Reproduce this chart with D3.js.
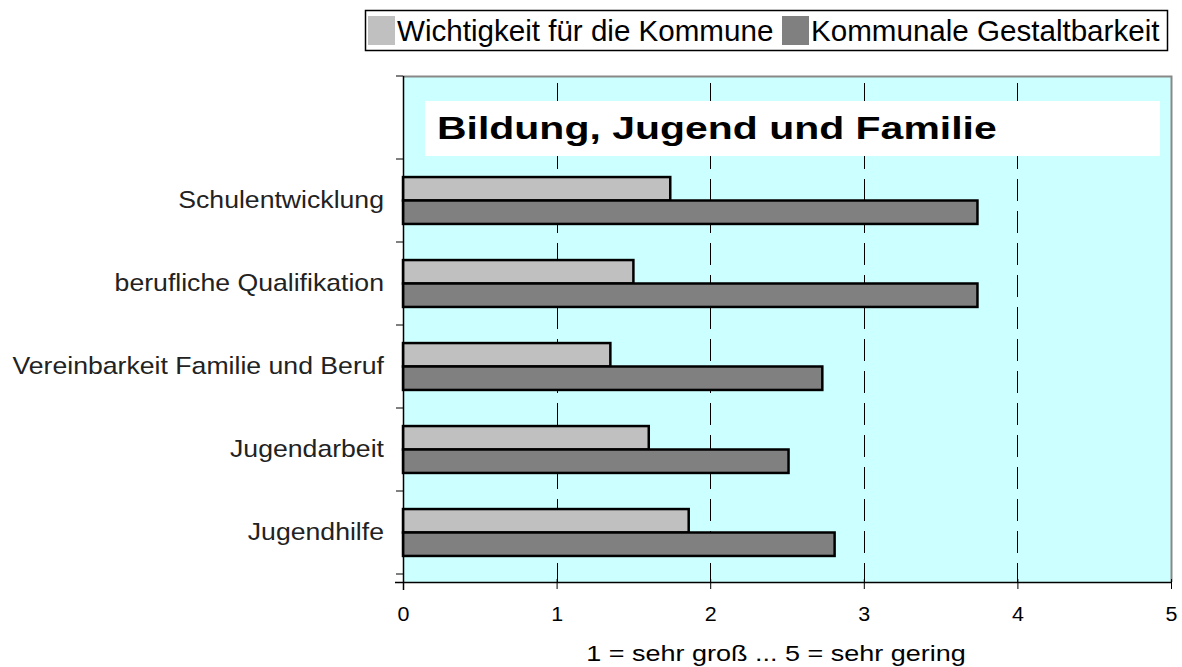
<!DOCTYPE html>
<html>
<head>
<meta charset="utf-8">
<script src="https://cdn.jsdelivr.net/npm/d3@7"></script>
<style>
	body { margin: 0; background: #fff; }
	text { font-family: "Liberation Sans", Arial, sans-serif; }
</style>
</head>
<body>
<svg width="1182" height="667"></svg>
<script>
// data
const categories = ["", "Schulentwicklung", "berufliche Qualifikation", "Vereinbarkeit Familie und Beruf", "Jugendarbeit", "Jugendhilfe"]
const wichtigkeit = [null, 1.74, 1.5, 1.35, 1.6, 1.86]
const gestaltbarkeit = [null, 3.74, 3.74, 2.73, 2.51, 2.81]
const seriesNames = ["Wichtigkeit für die Kommune", "Kommunale Gestaltbarkeit"]
const xTicks = [0, 1, 2, 3, 4, 5]
const chartTitle = "Bildung, Jugend und Familie"
const xTitle = "1 = sehr groß ... 5 = sehr gering"

const colors = { light: "#c0c0c0", dark: "#808080", plot: "#ccffff" }

const svg = d3.select("svg")
const plotLeft = 403, plotRight = 1171, plotTop = 76, bandBottom = 574, plotBottom = 582

const x = d3.scaleLinear().domain([0, 5]).range([plotLeft, plotRight])
const y = d3.scaleBand().domain(categories.map((c, i) => i)).range([plotTop, bandBottom]).paddingInner(0).paddingOuter(0)
const inner = d3.scaleBand().domain([0, 1]).range([0, y.bandwidth()]).paddingOuter(0.77).paddingInner(0)

// the source picture is stretched sideways, so texts get a horizontal scale
function stretchedText(parent, px, py, sx, str) {
	return parent.append("text")
		.attr("transform", `translate(${px},${py}) scale(${sx},1)`)
		.text(str)
}

// plot background
svg.append("rect")
	.attr("x", plotLeft).attr("y", plotTop)
	.attr("width", plotRight - plotLeft).attr("height", plotBottom - plotTop)
	.attr("fill", colors.plot)

// top and right border (grey)
svg.append("path")
	.attr("d", `M${plotLeft},${plotTop + 0.5} H${plotRight + 0.5} V${plotBottom}`)
	.attr("fill", "none")
	.attr("stroke", "#888")
	.attr("stroke-width", 2)

// dashed gridlines
svg.selectAll(".grid")
	.data(xTicks.filter((t) => t > 0 && t < 5))
	.enter()
	.append("line")
	.attr("class", "grid")
	.attr("x1", (d) => Math.round(x(d)) + 0.5)
	.attr("x2", (d) => Math.round(x(d)) + 0.5)
	.attr("y1", plotTop)
	.attr("y2", plotBottom)
	.attr("stroke", "#000")
	.attr("stroke-width", 1)
	.attr("stroke-dasharray", "22,10")
	.attr("stroke-dashoffset", -7)

// title box
svg.append("rect")
	.attr("x", 425).attr("y", 101)
	.attr("width", 735).attr("height", 55)
	.attr("fill", "#fff")
stretchedText(svg, 437, 139, 1.28, chartTitle)
	.attr("font-size", 32)
	.attr("font-weight", "bold")
	.attr("fill", "#000")

// bars
const rows = categories.map((c, i) => ({ i, values: [wichtigkeit[i], gestaltbarkeit[i]] })).filter((r) => r.values[0] != null)
const barG = svg.selectAll(".row")
	.data(rows)
	.enter()
	.append("g")
	.attr("class", "row")
	.attr("transform", (d) => `translate(0,${y(d.i)})`)

barG.selectAll("rect")
	.data((d) => d.values.map((v, k) => ({ v, k })))
	.enter()
	.append("rect")
	.attr("x", x(0))
	.attr("y", (d) => inner(d.k))
	.attr("width", (d) => x(d.v) - x(0))
	.attr("height", inner.bandwidth())
	.attr("fill", (d) => (d.k === 0 ? colors.light : colors.dark))
	.attr("stroke", "#000")
	.attr("stroke-width", 2.5)

// x axis
const xAxis = svg.append("g")
	.attr("transform", `translate(0,${plotBottom})`)
	.call(d3.axisBottom(x).tickValues(xTicks).tickSize(8).tickFormat(d3.format("d")))
xAxis.select(".domain").attr("d", `M${plotLeft - 8},0.5H${plotRight}`).attr("stroke-width", 1.5)
xAxis.selectAll(".tick line").attr("y1", -3).attr("y2", 7)
xAxis.selectAll(".tick text").remove()
xAxis.selectAll(".tick").each(function (d) {
	stretchedText(d3.select(this), 0, 39, 1.1, d)
		.attr("font-size", 19.5)
		.attr("text-anchor", "middle")
		.attr("fill", "#000")
})

// y axis
const yAxis = svg.append("g")
svg.append("line")
	.attr("x1", plotLeft + 0.5).attr("x2", plotLeft + 0.5)
	.attr("y1", plotTop).attr("y2", plotBottom + 8)
	.attr("stroke", "#000").attr("stroke-width", 1.5)
yAxis.selectAll("line")
	.data(d3.range(categories.length + 1))
	.enter()
	.append("line")
	.attr("x1", plotLeft - 7)
	.attr("x2", plotLeft)
	.attr("y1", (d) => plotTop + d * y.step())
	.attr("y2", (d) => plotTop + d * y.step())
	.attr("stroke", "#000")
rows.forEach((d) => {
	stretchedText(yAxis, 384, y(d.i) + y.bandwidth() / 2 + 7, 1.11, categories[d.i])
		.attr("font-size", 24)
		.attr("text-anchor", "end")
		.attr("fill", "#222")
})

// x axis title
stretchedText(svg, 776, 661, 1.2, xTitle)
	.attr("text-anchor", "middle")
	.attr("font-size", 22.5)
	.attr("fill", "#000")

// legend
const legend = svg.append("g")
legend.append("rect")
	.attr("x", 365.5).attr("y", 10.5)
	.attr("width", 802).attr("height", 40)
	.attr("fill", "#fff")
	.attr("stroke", "#000")
	.attr("stroke-width", 1.5)
const legendItems = [
	{ name: seriesNames[0], color: colors.light, x: 368 },
	{ name: seriesNames[1], color: colors.dark, x: 782 },
]
legendItems.forEach((d) => {
	legend.append("rect").attr("x", d.x).attr("y", 16).attr("width", 27).attr("height", 29).attr("fill", d.color)
	stretchedText(legend, d.x + 29, 41, 1.02, d.name).attr("font-size", 29).attr("fill", "#000")
})
</script>
</body>
</html>
